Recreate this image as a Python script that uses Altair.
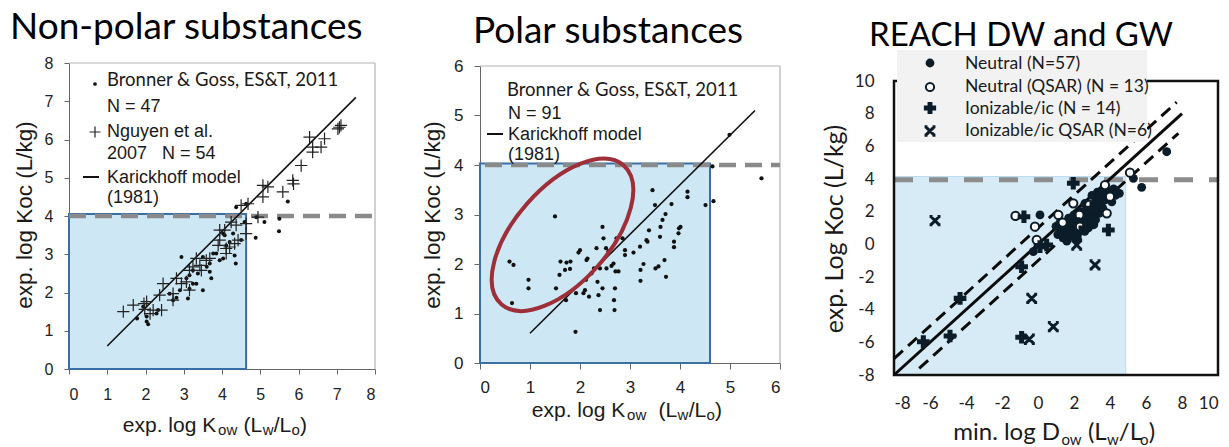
import altair as alt
import pandas as pd

# ---------------- data ----------------
# Panel 1 - Non-polar substances (exp. log Kow vs exp. log Koc)
np_bg_kow = [1.78, 2.03, 2.07, 2.29, 2.94, 2.72, 2.81, 2.90, 3.11, 3.15,
             3.15, 3.24, 3.37, 3.33, 3.50, 3.68, 3.72, 3.50, 3.68, 3.85,
             3.94, 4.03, 4.11, 4.20, 4.33, 4.36, 4.29, 4.50, 4.59, 4.37,
             4.63, 4.90, 4.88, 5.11, 5.49, 5.50, 5.72, 3.24, 3.07, 3.77,
             4.07, 2.03, 4.03, 3.60, 2.63, 1.94, 2.33]
np_bg_koc = [1.32, 1.24, 1.17, 1.45, 2.93, 1.80, 1.86, 2.06, 1.84, 2.10,
             2.45, 2.58, 2.50, 2.23, 2.06, 2.54, 2.37, 2.93, 2.76, 3.02,
             2.84, 2.89, 3.23, 3.32, 2.97, 2.76, 3.54, 3.37, 3.84, 4.23,
             4.32, 3.97, 3.43, 3.84, 3.60, 3.93, 4.38, 2.23, 2.37, 3.02,
             3.50, 1.37, 3.54, 2.67, 1.97, 1.63, 1.54]
np_ng_kow = [1.42, 1.96, 1.98, 2.20, 2.42, 2.46, 2.37, 2.72, 2.81, 2.94,
             3.33, 3.42, 3.46, 3.24, 3.68, 3.94, 4.07, 3.94, 4.11, 4.20,
             4.37, 4.42, 4.63, 4.63, 4.50, 4.68, 4.94, 5.07, 5.07, 5.20,
             5.59, 5.85, 5.87, 6.07, 6.29, 6.37, 6.37, 6.59, 6.68, 7.03,
             7.11, 7.07, 3.07, 3.15, 3.59, 1.68, 2.12, 2.72, 3.90, 4.24,
             4.33, 3.15, 2.03, 4.11]
np_ng_koc = [1.50, 1.71, 1.56, 1.54, 1.54, 2.23, 1.93, 1.97, 2.37, 2.23,
             2.89, 2.71, 2.58, 2.67, 2.89, 3.63, 3.63, 3.37, 3.15, 3.19,
             3.76, 3.37, 3.54, 3.80, 4.28, 4.32, 3.97, 4.50, 4.80, 4.76,
             4.63, 4.93, 4.84, 5.32, 6.06, 5.80, 5.67, 5.80, 6.02, 6.28,
             6.37, 6.32, 2.28, 2.58, 2.84, 1.67, 1.45, 1.80, 3.23, 3.84,
             3.28, 2.06, 1.76, 3.02]
kar1_kow = [1.0, 7.5]
kar1_koc = [0.6, 7.1]
box1_kow = [0.0, 4.63]
box1_koc = [0.0, 4.05]

# Panel 2 - Polar substances
pol_kow = [0.59, 0.67, 0.64, 0.97, 0.97, 1.50, 1.52, 1.59, 1.61, 1.70,
           1.73, 1.81, 1.80, 1.72, 1.91, 1.92, 1.97, 2.00, 2.07, 2.10,
           2.12, 2.13, 2.15, 2.18, 2.23, 2.28, 2.33, 2.35, 2.37, 2.40,
           2.40, 2.45, 2.45, 2.47, 2.52, 2.53, 2.57, 2.63, 2.67, 2.68,
           2.69, 2.70, 2.71, 2.73, 2.77, 2.85, 2.90, 2.90, 3.07, 3.20,
           3.21, 3.21, 3.27, 3.33, 3.35, 3.38, 3.45, 3.50, 3.51, 3.57,
           3.60, 3.61, 3.65, 3.69, 3.71, 3.72, 3.83, 3.88, 3.88, 3.97,
           3.98, 4.01, 4.15, 4.15, 4.51, 4.67, 4.65, 4.99, 5.63]
pol_koc = [2.05, 1.98, 1.21, 1.68, 1.51, 2.96, 1.51, 1.78, 2.05, 1.88,
           2.03, 2.05, 1.90, 1.27, 0.63, 1.41, 2.23, 2.28, 1.41, 1.47,
           1.68, 2.08, 2.11, 1.34, 1.81, 1.91, 2.32, 1.64, 1.37, 1.07,
           1.91, 2.75, 1.51, 2.52, 2.32, 1.91, 2.26, 1.96, 2.01, 1.27,
           1.07, 1.51, 1.85, 2.52, 1.85, 2.52, 2.28, 2.18, 2.23, 2.35,
           1.88, 1.66, 2.00, 2.48, 2.45, 2.68, 3.49, 3.19, 1.91, 1.95,
           2.55, 2.75, 2.89, 2.08, 3.01, 1.74, 3.21, 2.45, 2.34, 2.62,
           2.72, 2.75, 3.46, 3.35, 3.19, 3.27, 3.97, 4.61, 3.73]
kar2_kow = [1.0, 5.5]
kar2_koc = [0.6, 5.1]
box2_kow = [0.0, 4.6]
box2_koc = [0.0, 4.03]
ellipse_center = [1.65, 2.59]

# Panel 3 - REACH DW and GW (min. log Dow vs exp. log Koc)
neu_dow = [0.11, -0.26, 5.30, 5.76, 7.15, 4.52, 4.30,
           1.0, 1.1, 1.3, 1.4, 1.5, 1.6, 1.7, 1.8, 1.9, 1.9,
           2.0, 2.1, 2.2, 2.3, 2.4, 2.4, 2.5, 2.6, 2.7, 2.7,
           2.8, 2.9, 3.0, 3.0, 3.1, 3.2, 3.2, 3.3, 3.4, 3.4,
           3.5, 3.6, 3.6, 3.7, 3.8, 3.9, 4.0, 4.1, 4.2, 4.3,
           2.2, 1.6, 2.0, 2.8, 3.1, 1.2, 2.6, 3.0, 3.3, 3.7]
neu_koc = [1.80, -0.45, 4.04, 3.49, 5.67, 3.12, 3.30,
           1.1, 0.6, 0.9, 0.4, 1.2, 0.7, 1.6, 0.9, 0.5, 1.3,
           1.8, 1.0, 0.6, 1.5, 2.0, 1.1, 1.7, 0.8, 1.4, 2.2,
           1.9, 1.2, 2.4, 1.7, 2.0, 2.6, 1.5, 2.3, 2.9, 1.9,
           2.5, 3.1, 2.2, 2.7, 3.3, 2.9, 3.2, 2.6, 3.4, 3.0,
           0.3, 0.2, 0.7, 1.0, 1.2, 1.3, 2.5, 3.0, 3.2, 3.5]
neuq_dow = [-1.25, -0.17, -0.07, 1.13, 1.96, 2.30, 2.33, 3.72, 3.82, 4.00, 5.11, 2.85, 1.37]
neuq_koc = [1.74, 1.08, 0.27, 1.80, 2.51, 1.80, 1.08, 3.63, 1.90, 2.92, 4.39, 2.41, 1.33]
ion_dow = [-0.78, 3.91, 1.96, 0.11, 0.48, -0.91, -4.33, -4.89, -6.37, -0.91, 2.0, 1.5, 3.0, 2.6]
ion_koc = [1.69, 0.88, 3.74, -0.14, -0.04, -1.37, -3.31, -5.61, -5.96, -5.69, 1.5, 0.6, 2.2, 1.0]
ionq_dow = [-5.72, -0.35, -0.48, 0.85, 3.17, 2.15]
ionq_koc = [1.45, -3.31, -5.81, -5.04, -1.26, -0.04]
fit_dow = [-8.0, 8.0]
fit_koc = [-8.0, 8.0]
upper_dow = [-8.0, 7.7]
upper_koc = [-7.0, 8.7]
lower_dow = [-6.6, 7.8]
lower_koc = [-7.6, 6.8]
box3_dow = [-8.0, 4.87]
box3_koc = [-8.0, 4.15]

threshold_koc = [4.0, 4.0, 3.95]

# ---------------- helpers ----------------
W, H = 1229, 447
ONE = alt.Data(values=[{"k": 0}])
ARIAL = "Liberation Sans"
CAL = "Lato"
INK = "#0c1c28"
NB = "\u00a0"


def frame(xs, ys):
    return pd.DataFrame({"x": xs, "y": ys})


def seg(x, y, x2, y2):
    return pd.DataFrame({"x": x, "y": y, "x2": x2, "y2": y2})


def label(text, x, y, size, font, color="#1a1a1a", align="left",
          baseline="alphabetic", angle=0):
    return alt.Chart(ONE).mark_text(
        text=text, font=font, fontSize=size, color=color, align=align,
        baseline=baseline, angle=angle).encode(x=alt.value(x), y=alt.value(y))


def symbol(x, y, **kw):
    return alt.Chart(ONE).mark_point(opacity=1, **kw).encode(
        x=alt.value(x), y=alt.value(y))


def hline(x1, x2, y, **kw):
    return alt.Chart(ONE).mark_rule(**kw).encode(
        x=alt.value(x1), x2=alt.value(x2), y=alt.value(y))


ARIAL_W = {'e': 556, 'x': 500, 'p': 556, '.': 278, ' ': 278, 'l': 222, 'o': 556,
           'g': 556, 'K': 667, '(': 333, 'L': 556, '/': 278, ')': 333, 'w': 722}
CAL_W = {'m': 799, 'i': 229, 'n': 525, '.': 252, ' ': 226, 'l': 229, 'o': 527,
         'g': 471, 'D': 615, 'w': 715, '(': 303, 'L': 420, '/': 386, ')': 303}


def rich(pieces, center_x, baseline, font, table, factor):
    widths = [sum(table[c] for c in t) / 1000 * s * factor for t, s, d in pieces]
    x = center_x - sum(widths) / 2
    out = []
    for (t, s, d), w in zip(pieces, widths):
        lead = len(t) - len(t.lstrip(" "))
        if t.strip():
            out.append(label(t.strip(), x + lead * table[" "] / 1000 * s * factor,
                             baseline + d, s, font))
        x += w
    return out


def panel(xdom, ydom, xr, yr, xticks, yticks, axis_style, layers_spec):
    """Flat list of layers sharing one domain/range per panel;
    the first layer carries the panel's axes."""
    built = []
    for i, (data, mark, extra) in enumerate(layers_spec):
        sx = alt.Scale(domain=xdom, range=xr, nice=False, zero=False)
        sy = alt.Scale(domain=ydom, range=yr, nice=False, zero=False)
        if i == 0:
            ax = alt.Axis(orient="bottom", offset=-(H - yr[0]), values=xticks,
                          title=None, grid=False, **axis_style["x"])
            ay = alt.Axis(orient="left", offset=-xr[0], values=yticks,
                          title=None, grid=False, **axis_style["y"])
        else:
            ax = None
            ay = None
        enc = dict(x=alt.X("x:Q", scale=sx, axis=ax),
                   y=alt.Y("y:Q", scale=sy, axis=ay))
        enc.update(extra)
        built.append(mark(alt.Chart(data)).encode(**enc))
    return built


# ---------------- Panel 1 ----------------
ax1 = dict(labelFont=ARIAL, labelFontSize=16, labelColor="#222", tickColor="#666",
           domainColor="#666", tickSize=5, labelPadding=12)
p1 = panel([0, 8], [0, 8], [69, 375], [369, 63], list(range(0, 9)), list(range(0, 9)),
           {"x": ax1, "y": dict(ax1, labelPadding=11)}, [
    (frame(box1_kow[:1], box1_koc[:1]).assign(x2=box1_kow[1], y2=box1_koc[1]),
     lambda c: c.mark_rect(fill="#cde8f4", stroke="#3c6ea6", strokeWidth=2),
     dict(x2="x2:Q", y2="y2:Q")),
    (seg([0, 8], [8, 0], [8, 8], [8, 8]),
     lambda c: c.mark_rule(color="#b4b4b4", strokeWidth=1.2),
     dict(x2="x2:Q", y2="y2:Q")),
    (seg([0], [threshold_koc[0]], [7.95], [threshold_koc[0]]),
     lambda c: c.mark_rule(color="#8a8a8a", strokeWidth=4.5, strokeDash=[17, 9]),
     dict(x2="x2:Q")),
    (seg([kar1_kow[0]], [kar1_koc[0]], [kar1_kow[1]], [kar1_koc[1]]),
     lambda c: c.mark_rule(color="#111", strokeWidth=1.6),
     dict(x2="x2:Q", y2="y2:Q")),
    (frame(np_bg_kow, np_bg_koc),
     lambda c: c.mark_circle(size=16, color="#111", opacity=1), {}),
    (frame(np_ng_kow, np_ng_koc),
     lambda c: c.mark_point(shape="M-1,0L1,0M0,-1L0,1", size=150, filled=False,
                            stroke="#222", strokeWidth=1.2, opacity=1), {}),
])

# ---------------- Panel 2 ----------------
ax2 = dict(labelFont=ARIAL, labelFontSize=17, labelColor="#222", tickColor="#666",
           domainColor="#666", tickSize=6, labelPadding=10)
ELLIPSE = ("M1,0C1,0.283,0.552,0.51,0,0.51C-0.552,0.51,-1,0.283,-1,0"
           "C-1,-0.283,-0.552,-0.51,0,-0.51C0.552,-0.51,1,-0.283,1,0Z")
p2 = panel([0, 6], [0, 6], [480, 780], [363, 66], list(range(0, 7)), list(range(0, 7)),
           {"x": ax2, "y": dict(ax2, labelPadding=11)}, [
    (frame(box2_kow[:1], box2_koc[:1]).assign(x2=box2_kow[1], y2=box2_koc[1]),
     lambda c: c.mark_rect(fill="#cde8f4", stroke="#3c6ea6", strokeWidth=2),
     dict(x2="x2:Q", y2="y2:Q")),
    (seg([0, 6], [6, 0], [6, 6], [6, 6]),
     lambda c: c.mark_rule(color="#b4b4b4", strokeWidth=1.2),
     dict(x2="x2:Q", y2="y2:Q")),
    (seg([0.1], [threshold_koc[1]], [6.0], [threshold_koc[1]]),
     lambda c: c.mark_rule(color="#8a8a8a", strokeWidth=4.5, strokeDash=[17, 9]),
     dict(x2="x2:Q")),
    (seg([kar2_kow[0]], [kar2_koc[0]], [kar2_kow[1]], [kar2_koc[1]]),
     lambda c: c.mark_rule(color="#111", strokeWidth=1.6),
     dict(x2="x2:Q", y2="y2:Q")),
    (frame(pol_kow, pol_koc),
     lambda c: c.mark_circle(size=18, color="#111", opacity=1), {}),
    (frame([ellipse_center[0]], [ellipse_center[1]]),
     lambda c: c.mark_point(shape=ELLIPSE, size=34225, angle=311.4, filled=False,
                            stroke="#9e2f38", strokeWidth=4, opacity=1), {}),
])

# ---------------- Panel 3 ----------------
ax3 = dict(labelFont=CAL, labelFontSize=17, labelColor="#222", ticks=False,
           domain=False, labelPadding=20, labelExpr="'' + datum.value")
XMARK = "M-1,-1L1,1M-1,1L1,-1M-1.3,-1L-0.6,-1M0.6,-1L1.3,-1M-1.3,1L-0.6,1M0.6,1L1.3,1"
p3 = panel([-8, 10], [-8, 10], [894, 1218], [375, 81], list(range(-8, 11, 2)),
           list(range(-8, 11, 2)), {"x": ax3, "y": ax3}, [
    (frame(box3_dow[:1], box3_koc[:1]).assign(x2=box3_dow[1], y2=box3_koc[1]),
     lambda c: c.mark_rect(fill="#d6ebf6", stroke="#b9dbee", strokeWidth=1),
     dict(x2="x2:Q", y2="y2:Q")),
    (seg([-8], [threshold_koc[2]], [10], [threshold_koc[2]]),
     lambda c: c.mark_rule(color="#8c8c8c", strokeWidth=5, strokeDash=[19, 16]),
     dict(x2="x2:Q")),
    (frame([-8], [-8]).assign(x2=10, y2=10),
     lambda c: c.mark_rect(fillOpacity=0, stroke="#111", strokeWidth=2.5),
     dict(x2="x2:Q", y2="y2:Q")),
    (seg([fit_dow[0]], [fit_koc[0]], [fit_dow[1]], [fit_koc[1]]),
     lambda c: c.mark_rule(color="#0b0b0b", strokeWidth=3),
     dict(x2="x2:Q", y2="y2:Q")),
    (seg([upper_dow[0], lower_dow[0]], [upper_koc[0], lower_koc[0]],
         [upper_dow[1], lower_dow[1]], [upper_koc[1], lower_koc[1]]),
     lambda c: c.mark_rule(color="#0b0b0b", strokeWidth=3, strokeDash=[12, 7]),
     dict(x2="x2:Q", y2="y2:Q")),
    (frame(neu_dow, neu_koc),
     lambda c: c.mark_circle(size=78, color=INK, opacity=1), {}),
    (frame(neuq_dow, neuq_koc),
     lambda c: c.mark_point(shape="circle", size=68, filled=True, fill="white",
                            stroke=INK, strokeWidth=2, opacity=1), {}),
    (frame(ion_dow, ion_koc),
     lambda c: c.mark_point(shape="cross", size=160, filled=True, color=INK,
                            opacity=1), {}),
    (frame(ionq_dow, ionq_koc),
     lambda c: c.mark_point(shape=XMARK, size=70, filled=False, stroke=INK,
                            strokeWidth=3, opacity=1), {}),
])

# ---------------- texts / legends ----------------
texts = [
    label("Non-polar substances", 10, 39, 37, CAL, color="#000"),
    label("Polar substances", 608, 43, 37, CAL, color="#000", align="center"),
    label("REACH DW and GW", 1021, 46, 33, CAL, color="#000", align="center"),
    # y titles
    label("exp. log Koc (L/kg)", 25, 215, 22.5, ARIAL, angle=270, align="center",
          baseline="middle"),
    label("exp. log Koc (L/kg)", 433, 215, 22.5, ARIAL, angle=270, align="center",
          baseline="middle"),
    label("exp. Log Koc (L/kg)", 835, 229, 25, CAL, angle=270, align="center",
          baseline="middle"),
    # panel 1 legend
    symbol(95, 84, shape="circle", size=14, filled=True, color="#111"),
    label("Bronner & Goss, ES&T, 2011", 107, 86, 18.5, CAL),
    label("N = 47", 107, 112, 18, ARIAL),
    symbol(95, 132, shape="M-1,0L1,0M0,-1L0,1", size=120, filled=False,
           stroke="#222", strokeWidth=1.2),
    label("Nguyen et al.", 107, 137, 18, ARIAL),
    label("2007" + NB * 3 + "N = 54", 107, 159, 18, ARIAL),
    hline(83, 99, 177, color="#111", strokeWidth=2),
    label("Karickhoff model", 107, 183, 18, ARIAL),
    label("(1981)", 107, 203, 18, ARIAL),
    # panel 2 legend
    label("Bronner & Goss, ES&T, 2011", 507, 96, 18.5, CAL),
    label("N = 91", 508, 119, 18, ARIAL),
    hline(487, 503, 134, color="#111", strokeWidth=2),
    label("Karickhoff model", 508, 140, 18, ARIAL),
    label("(1981)", 508, 160, 18, ARIAL),
    # panel 3 legend
    alt.Chart(ONE).mark_rect(color="#f2f2f2").encode(
        x=alt.value(897), x2=alt.value(1147), y=alt.value(50), y2=alt.value(142)),
    symbol(930, 63, shape="circle", size=78, filled=True, color=INK),
    symbol(930, 87, shape="circle", size=68, filled=True, fill="white", stroke=INK,
           strokeWidth=2),
    symbol(930, 108, shape="cross", size=150, filled=True, color=INK),
    symbol(930, 131, shape=XMARK, size=70, filled=False, stroke=INK, strokeWidth=3),
    label("Neutral (N=57)", 965, 64, 17.5, CAL, baseline="middle"),
    label("Neutral (QSAR) (N = 13)", 965, 87, 17.5, CAL, baseline="middle"),
    label("Ionizable/ic (N = 14)", 965, 109, 17.5, CAL, baseline="middle"),
    label("Ionizable/ic QSAR (N=6)", 965, 131, 17.5, CAL, baseline="middle"),
]
texts += rich([("exp. log K", 21, 0), ("ow", 15, 3), (" (L", 21, 0), ("w", 15, 3),
               ("/L", 21, 0), ("o", 15, 3), (")", 21, 0)], 215, 432, ARIAL, ARIAL_W, 1.02)
texts += rich([("exp. log K", 21, 0), ("ow", 15, 3), ("  (L", 21, 0), ("w", 15, 3),
               ("/L", 21, 0), ("o", 15, 3), (")", 21, 0)], 627, 417, ARIAL, ARIAL_W, 1.02)
texts += rich([("min. log D", 24, 0), ("ow", 15, 5), (" (L", 24, 0), ("w", 15, 5),
               ("/L", 24, 0), ("o", 15, 5), (")", 24, 0)], 1055, 440, CAL, CAL_W, 1.1)

chart = alt.layer(*p1, *p2, *p3, *texts).resolve_scale(
    x="independent", y="independent").resolve_axis(
    x="independent", y="independent").properties(
    width=W, height=H, padding=0, autosize=alt.AutoSizeParams(type="none"),
    background="white").configure_view(stroke=None)

chart.save("out.html", embed_options={"renderer": "svg", "actions": False})
